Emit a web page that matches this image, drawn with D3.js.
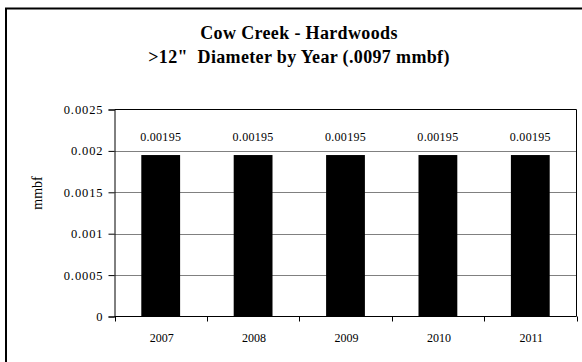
<!DOCTYPE html>
<html><head><meta charset="utf-8">
<script src="https://cdn.jsdelivr.net/npm/d3@7/dist/d3.min.js"></script>
<style>
body{margin:0;background:#fff;}
svg text{font-family:"Liberation Serif","Times New Roman",Tinos,"DejaVu Serif",serif;}
</style></head>
<body>
<svg id="c" width="582" height="362"></svg>
<script>
const categories = ["2007","2008","2009","2010","2011"];
const values = [0.00195,0.00195,0.00195,0.00195,0.00195];
const yTicks = [0,0.0005,0.001,0.0015,0.002,0.0025];
const yTickLabels = ["0","0.0005","0.001","0.0015","0.002","0.0025"];
const titleLines = ["Cow Creek - Hardwoods",">12\"  Diameter by Year (.0097 mmbf)"];
const yTitle = "mmbf";

const svg = d3.select("#c");
const m = {left:114.5, right:576.5, top:109.5, bottom:316.5};

svg.append("rect").attr("x",6).attr("y",8.5).attr("width",600).attr("height",400)
  .attr("fill","none").attr("stroke","#000").attr("stroke-width",2);

const x = d3.scaleBand().domain(categories).range([m.left,m.right]).paddingInner(0.58).paddingOuter(0.29);
const xb = d3.scaleBand().domain(categories).range([m.left,m.right]);
const y = d3.scaleLinear().domain([0,0.0025]).range([m.bottom,m.top]);

svg.append("g").selectAll("line").data(yTicks.filter(t=>t>0 && t<0.0025)).join("line")
  .attr("x1",m.left).attr("x2",m.right).attr("y1",d=>Math.round(y(d))+0.5).attr("y2",d=>Math.round(y(d))+0.5)
  .attr("stroke","#808080").attr("stroke-width",1);

svg.append("path").attr("d",`M${m.left},${m.top}H${m.right}V${m.bottom}`).attr("fill","none").attr("stroke","#000");

svg.append("g").selectAll("rect").data(values).join("rect")
  .attr("x",(d,i)=>x(categories[i])).attr("width",x.bandwidth())
  .attr("y",d=>y(d)).attr("height",d=>m.bottom-y(d)).attr("fill","#000");

svg.append("g").selectAll("text").data(values).join("text")
  .attr("x",(d,i)=>x(categories[i])+x.bandwidth()/2).attr("y",141)
  .attr("text-anchor","middle").attr("font-size","12px").attr("letter-spacing","0.3px").text(d=>d.toString());

const yAxis = d3.axisLeft(y).tickValues(yTicks).tickFormat((d,i)=>yTickLabels[i]).tickSize(6).tickPadding(5);
const gy = svg.append("g").attr("transform",`translate(${m.left},0)`).call(yAxis);
gy.attr("font-family",null);
gy.select(".domain").attr("stroke","#000");
gy.selectAll("text").attr("font-size","12.5px").attr("letter-spacing","0.9px").attr("fill","#000");

const gx = svg.append("g").attr("transform",`translate(0,${m.bottom})`);
gx.append("line").attr("x1",m.left).attr("x2",m.right).attr("stroke","#000");
const bounds = categories.map(c=>xb(c)).concat([m.right]);
gx.selectAll("line.t").data(bounds).join("line").attr("class","t")
  .attr("x1",d=>Math.round(d)+0.5).attr("x2",d=>Math.round(d)+0.5).attr("y1",0).attr("y2",5).attr("stroke","#000");
gx.selectAll("text").data(categories).join("text")
  .attr("x",d=>xb(d)+xb.bandwidth()/2+1).attr("y",25)
  .attr("text-anchor","middle").attr("font-size","12px").text(d=>d);

svg.append("text").attr("transform","translate(42,193) rotate(-90)").attr("text-anchor","middle")
  .attr("font-size","14px").text(yTitle);

svg.append("g").selectAll("text").data(titleLines).join("text")
  .attr("x",299).attr("y",(d,i)=>38.5+i*24.5).attr("text-anchor","middle")
  .style("white-space","pre").attr("xml:space","preserve")
  .attr("font-size","18px").attr("font-weight","bold").attr("letter-spacing","0.35px").text(d=>d);
</script>
</body></html>
